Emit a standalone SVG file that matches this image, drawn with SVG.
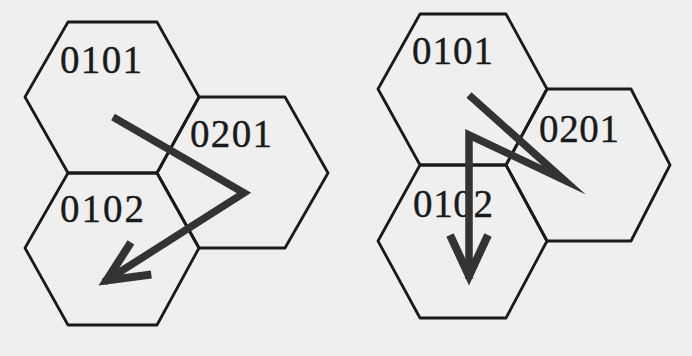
<svg xmlns="http://www.w3.org/2000/svg" width="692" height="356" viewBox="0 0 692 356">
  <style>
    .hex { fill: none; stroke: #1a1a1a; stroke-width: 2.8; stroke-linejoin: round; }
    .lbl { font-family: "Liberation Serif", "Times New Roman", serif; font-size: 39px; fill: #1a1a1a; stroke: #1a1a1a; stroke-width: 0.4; }
    .path { fill: none; stroke: #333; stroke-width: 7.5; stroke-linejoin: miter; stroke-miterlimit: 20; }
    .head { fill: none; stroke: #333; stroke-width: 8; stroke-linejoin: miter; stroke-miterlimit: 20; }
  </style>
  <defs>
    <marker id="vhead" markerUnits="userSpaceOnUse" markerWidth="70" markerHeight="70" refX="0" refY="0" viewBox="-60 -35 70 70" orient="auto" overflow="visible">
      <path class="head" d="M -44,-19 L -3,0 L -44,19"/>
    </marker>
  </defs>

  <!-- paper -->
  <rect width="692" height="356" fill="#efefef"/>

  <!-- left cluster -->
  <g id="left-0101">
    <polygon class="hex" points="68,22 157,22 199,97 157,173 68,173 25,97"/>
    <text class="lbl" x="60" y="73" textLength="82">0101</text>
  </g>
  <g id="left-0201">
    <polygon class="hex" points="199,97 285,97 328,173 285,248 199,248 157,173"/>
    <text class="lbl" x="190" y="147" textLength="82">0201</text>
  </g>
  <g id="left-0102">
    <polygon class="hex" points="68,173 157,173 199,248 157,325 68,325 25,248"/>
    <text class="lbl" x="60" y="222" textLength="84">0102</text>
  </g>

  <!-- right cluster -->
  <g id="right-0101">
    <polygon class="hex" points="420,14 506,14 547,89 506,165 420,165 378,89"/>
    <text class="lbl" x="412" y="64" textLength="81">0101</text>
  </g>
  <g id="right-0201">
    <polygon class="hex" points="547,89 631,89 670,165 631,241 547,241 506,165"/>
    <text class="lbl" x="539" y="142" textLength="80">0201</text>
  </g>
  <g id="right-0102">
    <polygon class="hex" points="420,165 506,165 547,241 506,318 420,318 378,241"/>
    <text class="lbl" x="413" y="217" textLength="80">0102</text>
  </g>

  <!-- movement paths -->
  <g id="connectors">
    <polyline class="path" points="113,117 244,193 104,282" marker-end="url(#vhead)"/>
    <polyline class="path" points="469,95 564,180 469,135 469,279" marker-end="url(#vhead)"/>
  </g>
</svg>
